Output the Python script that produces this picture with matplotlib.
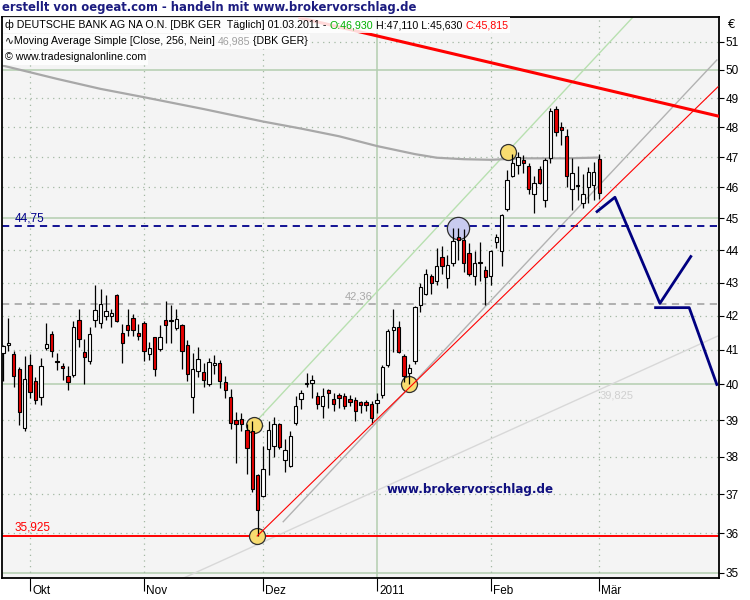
import matplotlib
matplotlib.use("Agg")
import matplotlib.pyplot as plt
import matplotlib.transforms as mtransforms
from matplotlib.font_manager import FontProperties
from matplotlib.patches import Rectangle
import numpy as np
import pandas as pd

# trading days (Xetra, no trading on 24./31. Dec)
holidays = ["2010-12-24", "2010-12-31"]
days = pd.bdate_range("2010-09-24", "2011-03-01")
days = days[~days.isin(pd.to_datetime(holidays))]

opens = [40.89, 41.15, 40.86, 40.44, 38.78, 40.57, 40.10, 39.66, 41.05, 41.45,
         40.67, 40.54, 40.23, 40.27, 41.88, 40.93, 40.67, 41.86, 41.78, 41.98,
         41.98, 42.62, 41.49, 41.71, 41.93, 41.50, 41.78, 40.86, 41.36, 41.02,
         41.86, 41.87, 41.64, 41.73, 41.15, 39.65, 40.39, 40.35, 40.00, 40.55,
         40.60, 40.08, 39.64, 39.00, 39.03, 38.73, 38.70, 37.50, 36.97, 38.21,
         38.30, 38.90, 37.91, 37.74, 38.93, 39.58, 40.00, 40.04, 39.67, 39.39,
         39.84, 39.60, 39.69, 39.67, 39.60, 39.57, 39.51, 39.51, 39.44, 39.48,
         39.70, 40.55, 41.59, 41.66, 40.82, 40.33, 40.68, 42.31, 42.65, 43.19,
         43.04, 43.79, 43.14, 43.60, 44.40, 44.31, 43.92, 43.19, 43.64, 43.39,
         43.21, 44.26, 43.98, 45.31, 46.37, 46.73, 46.90, 46.69, 45.77, 46.61,
         45.58, 46.96, 48.62, 48.03, 47.72, 45.96, 46.08, 45.48, 46.01, 46.09,
         46.93]
highs = [41.15, 41.92, 40.95, 40.49, 40.81, 40.87, 40.22, 40.77, 41.77, 41.56,
         40.89, 40.62, 40.52, 41.85, 42.20, 41.30, 41.66, 42.92, 42.80, 42.63,
         42.20, 42.64, 41.76, 42.20, 42.05, 41.76, 41.85, 41.22, 41.38, 41.72,
         42.45, 42.33, 42.20, 41.75, 41.28, 40.90, 41.07, 40.60, 40.75, 40.85,
         40.70, 40.25, 39.86, 39.22, 39.20, 38.89, 38.97, 37.55, 38.29, 38.97,
         39.10, 38.93, 38.48, 38.70, 39.67, 39.85, 40.33, 40.27, 39.78, 39.90,
         39.88, 39.76, 39.76, 39.76, 39.69, 39.64, 39.53, 39.55, 39.53, 39.76,
         40.55, 41.60, 42.20, 41.85, 40.86, 40.58, 42.30, 43.00, 43.40, 43.27,
         44.05, 44.12, 43.86, 44.68, 44.68, 44.65, 44.21, 43.98, 44.26, 43.50,
         44.00, 44.50, 45.15, 46.57, 47.12, 47.18, 47.07, 46.81, 46.36, 46.72,
         46.96, 48.68, 48.75, 48.19, 47.93, 46.96, 46.72, 46.45, 46.66, 46.85,
         47.11]
lows = [40.10, 40.95, 39.93, 38.88, 38.70, 39.62, 39.45, 39.43, 40.98, 40.79,
        40.41, 40.14, 39.84, 40.22, 41.08, 40.00, 40.58, 41.65, 41.64, 41.87,
        41.65, 41.80, 40.60, 41.40, 41.40, 41.27, 40.66, 40.69, 40.25, 40.96,
        41.20, 41.18, 41.59, 40.45, 40.10, 39.20, 40.20, 39.94, 39.97, 40.30,
        39.90, 39.61, 38.76, 37.84, 38.70, 37.55, 37.05, 35.925, 36.92, 37.50,
        38.00, 38.20, 37.59, 37.72, 38.88, 39.30, 39.94, 39.62, 39.30, 39.05,
        39.34, 39.25, 39.34, 39.30, 39.39, 38.99, 39.20, 39.25, 38.90, 39.20,
        39.62, 40.50, 40.94, 40.89, 40.08, 40.00, 40.58, 42.10, 42.63, 42.65,
        42.91, 43.27, 42.84, 43.50, 43.69, 43.33, 43.21, 42.91, 43.04, 42.31,
        42.91, 44.08, 43.52, 45.25, 46.33, 46.45, 46.47, 45.80, 45.17, 46.12,
        45.35, 46.81, 47.71, 47.41, 46.01, 45.26, 45.58, 45.33, 45.48, 45.60,
        45.63]
closes = [41.10, 41.20, 40.24, 39.23, 40.15, 39.79, 39.55, 40.54, 41.16, 40.96,
          40.65, 40.46, 40.08, 41.67, 41.30, 40.79, 41.45, 42.18, 42.36, 42.15,
          42.09, 41.83, 41.18, 41.58, 41.58, 41.41, 40.96, 41.06, 40.45, 41.38,
          41.73, 41.85, 41.91, 40.96, 40.30, 40.43, 40.74, 40.13, 40.63, 40.60,
          40.10, 39.83, 38.93, 38.90, 38.90, 38.24, 37.13, 36.60, 37.68, 38.73,
          38.90, 38.27, 38.18, 38.56, 39.39, 39.76, 40.05, 40.13, 39.45, 39.67,
          39.76, 39.45, 39.62, 39.39, 39.51, 39.25, 39.42, 39.42, 39.06, 39.55,
          40.50, 41.55, 41.67, 40.94, 40.25, 40.47, 42.26, 42.87, 43.27, 43.00,
          43.52, 43.52, 43.54, 44.29, 44.33, 43.60, 43.27, 43.60, 43.60, 43.17,
          43.96, 44.40, 45.10, 46.24, 46.79, 47.01, 46.81, 45.96, 46.15, 46.14,
          46.92, 48.55, 47.84, 47.91, 46.37, 46.48, 46.04, 45.80, 46.52, 46.52,
          45.815]

# Moving Average Simple (256), read at some bars
ma_idx = [0, 10, 18, 26, 37, 48, 55, 62, 69, 76, 80, 85, 90, 96, 104, 110]
ma_val = [50.15, 49.68, 49.33, 49.04, 48.63, 48.20, 47.96, 47.70, 47.37, 47.10,
          46.98, 46.93, 46.91, 46.96, 46.96, 46.985]

# drawn objects (bar index, price)
support_level = 35.925
resistance_level = 44.75
mid_level = 42.36
mid_label_x = 63
red_trend_x, red_trend_y = [54.8, 131.9], [51.88, 48.39]
support_x, support_y = [46.9, 131.9], [35.925, 49.40]
green_x, green_y = [46.3, 116.2], [38.90, 51.90]
channel_x, channel_y = [51.7, 131.7], [36.29, 50.35]
long_x, long_y = [32.5, 131.9], [34.82, 41.40]
long_label_x, long_label_y = 110, 39.825
proj1_x, proj1_y = [109.6, 112.9, 121.2, 126.9], [45.22, 45.68, 42.37, 43.80]
proj2_x, proj2_y = [120.4, 126.6, 131.7], [42.24, 42.24, 40.00]
yellow_x, yellow_y = [46.3, 46.9, 75.0, 93.2], [38.87, 35.93, 40.00, 47.18]
blue_x, blue_y = [83.9], [44.69]

price_ticks = list(range(35, 52))
month_labels = ["Okt", "Nov", "Dez", "2011", "Feb", "Mär"]

W, H = 750, 600
fig = plt.figure(figsize=(W / 100, H / 100), dpi=100)
ax = fig.add_axes([2 / W, (H - 578) / H, 717 / W, (578 - 17) / H])
ax.set_facecolor("#f4f4f4")
ax.set_yscale("log")
ax.set_xlim(-0.18, 132.1)
ax.set_ylim(34.87, 51.91)

idx = np.arange(len(days))
month_pos = [int(np.argmax((days.year == y) & (days.month == m)))
             for y, m in [(2010, 10), (2010, 11), (2010, 12), (2011, 1), (2011, 2), (2011, 3)]]

# grid
grid_dot = "#a3b8a3"
grid_green = "#b3cdb0"
for p in price_ticks:
    if p % 5 == 0:
        ax.axhline(p, color=grid_green, lw=1.1, zorder=0.5)
    else:
        ax.axhline(p, color=grid_dot, lw=0.9, ls=(0, (1, 3.5)), zorder=0.5)
for lab, pos in zip(month_labels, month_pos):
    if lab == "2011":
        ax.axvline(pos, color=grid_green, lw=1.1, zorder=0.5)
    else:
        ax.axvline(pos, color=grid_dot, lw=0.9, ls=(0, (1, 3.5)), zorder=0.5)

# light helper lines
ax.plot(long_x, long_y, color="#d8d8d8", lw=1, zorder=1)
ax.plot(channel_x, channel_y, color="#b2b2b2", lw=1, zorder=1)
ax.plot(green_x, green_y, color="#b8e0b0", lw=1, zorder=1)
ax.text(long_label_x, long_label_y, "39,825", color="#d0d0d0", fontsize=8,
        ha="left", va="top", family="Liberation Sans", zorder=1)

# moving average
ax.plot(ma_idx, ma_val, color="#a8a8a8", lw=1.6, zorder=1.5)

# horizontal levels
ax.axhline(mid_level, color="#aaaaaa", lw=1.3, ls=(0, (4, 3)), zorder=2)
ax.axhline(resistance_level, color="#00008b", lw=1.3, ls=(0, (4, 3)), zorder=2)
ax.axhline(support_level, color="#ff0000", lw=1.4, zorder=2)
lab_off = mtransforms.offset_copy(ax.transData, fig=fig, x=0, y=2, units="dots")
ax.text(mid_label_x, mid_level, "42,36", color="#a8a8a8", fontsize=8, family="Liberation Sans",
        ha="left", va="bottom", transform=lab_off, zorder=2)
ax.text(2.2, resistance_level, "44,75", color="#00008b", fontsize=8.5, family="Liberation Sans",
        ha="left", va="bottom", transform=lab_off, zorder=2)
ax.text(2.2, support_level, "35,925", color="#ff0000", fontsize=8.5, family="Liberation Sans",
        ha="left", va="bottom", transform=lab_off, zorder=2)

# circles
ax.plot(yellow_x, yellow_y, "o", ms=11.5, mfc="#f8dc70", mec="#303030", mew=0.9, zorder=2.5)
ax.plot(blue_x, blue_y, "o", ms=16, mfc="#c9cbf0", mec="#303030", mew=0.9, zorder=2.5)

# candles
o = np.array(opens)
c = np.array(closes)
up = c >= o
ax.vlines(idx, lows, highs, color="black", lw=0.9, zorder=3)
body_lo = np.minimum(o, c)
body_h = np.maximum(np.abs(c - o), 0.025)
ax.bar(idx, body_h, bottom=body_lo, width=0.62,
       color=np.where(up, "white", "#e60000"), edgecolor="black", lw=0.8, zorder=3.2)

# trend lines
ax.plot(support_x, support_y, color="#ff0000", lw=0.8, zorder=3.5)
ax.plot(red_trend_x, red_trend_y, color="#ff0000", lw=2.2, zorder=3.5)
ax.plot(proj1_x, proj1_y, color="#000080", lw=2.0, zorder=4)
ax.plot(proj2_x, proj2_y, color="#000080", lw=2.0, zorder=4)

ax.text(0.537, 0.158, "www.brokervorschlag.de", transform=ax.transAxes, color="#101080",
        fontsize=8.6, fontweight="bold", family="DejaVu Sans", ha="left", va="center", zorder=4)

# axes
for s in ax.spines.values():
    s.set_linewidth(1.3)
    s.set_color("black")
ax.yaxis.tick_right()
ax.set_yticks(price_ticks)
ax.set_yticklabels([str(p) for p in price_ticks])
ax.yaxis.set_minor_locator(matplotlib.ticker.NullLocator())
ax.tick_params(axis="y", which="both", direction="out", length=3.5, width=0.8, pad=1.5,
               labelsize=8.5)
ax.set_xticks(month_pos)
ax.set_xticklabels(month_labels)
ax.tick_params(axis="x", direction="out", length=9, width=0.8, pad=-4, labelsize=8.5)
shift = mtransforms.ScaledTranslation(2 / 100, 0, fig.dpi_scale_trans)
for t in ax.get_xticklabels():
    t.set_ha("left")
    t.set_transform(t.get_transform() + shift)
for t in ax.get_xticklabels() + ax.get_yticklabels():
    t.set_family("Liberation Sans")

fig.text(728 / W, 1 - 25 / H, "€", fontsize=8.5, ha="left", va="center", family="DejaVu Sans")

# title and chart header
fig.text(2 / W, 1 - 8 / H, "erstellt von oegeat.com - handeln mit www.brokervorschlag.de",
         color="#1c1c80", fontsize=8.4, fontweight="bold", family="DejaVu Sans",
         ha="left", va="center")

fig.canvas.draw()
rend = fig.canvas.get_renderer()
hdr_font = FontProperties(family=["Liberation Sans", "DejaVu Sans"], size=7.65)


def text_w(s):
    w1 = rend.get_text_width_height_descent(s + "|", hdr_font, ismath=False)[0]
    w2 = rend.get_text_width_height_descent("|", hdr_font, ismath=False)[0]
    return w1 - w2


def header_line(x0, y0, parts):
    full = "".join(s for s, _ in parts)
    fig.add_artist(Rectangle(((x0 - 2) / W, 1 - (y0 + 7.5) / H), (text_w(full) + 4) / W, 15 / H,
                             transform=fig.transFigure, facecolor="white", edgecolor="none",
                             alpha=0.85, zorder=2))
    done = ""
    for s, col in parts:
        x = x0 + (text_w(done) if done else 0)
        fig.text(x / W, 1 - y0 / H, s, color=col, fontproperties=hdr_font,
                 ha="left", va="center", zorder=3)
        done += s


header_line(5, 25, [("ф DEUTSCHE BANK AG NA O.N. [DBK GER  Täglich] 01.03.2011 - ", "black"),
                    ("O:46,930", "#00b000"),
                    (" H:47,110 L:45,630 ", "black"),
                    ("C:45,815", "#ff0000")])
header_line(5, 41.5, [("∿Moving Average Simple [Close, 256, Nein] ", "black"),
                      ("46,985", "#a0a0a0"),
                      (" {DBK GER}", "black")])
header_line(5, 57.5, [("© www.tradesignalonline.com", "black")])

fig.savefig("out.png", dpi=100, facecolor="white")
